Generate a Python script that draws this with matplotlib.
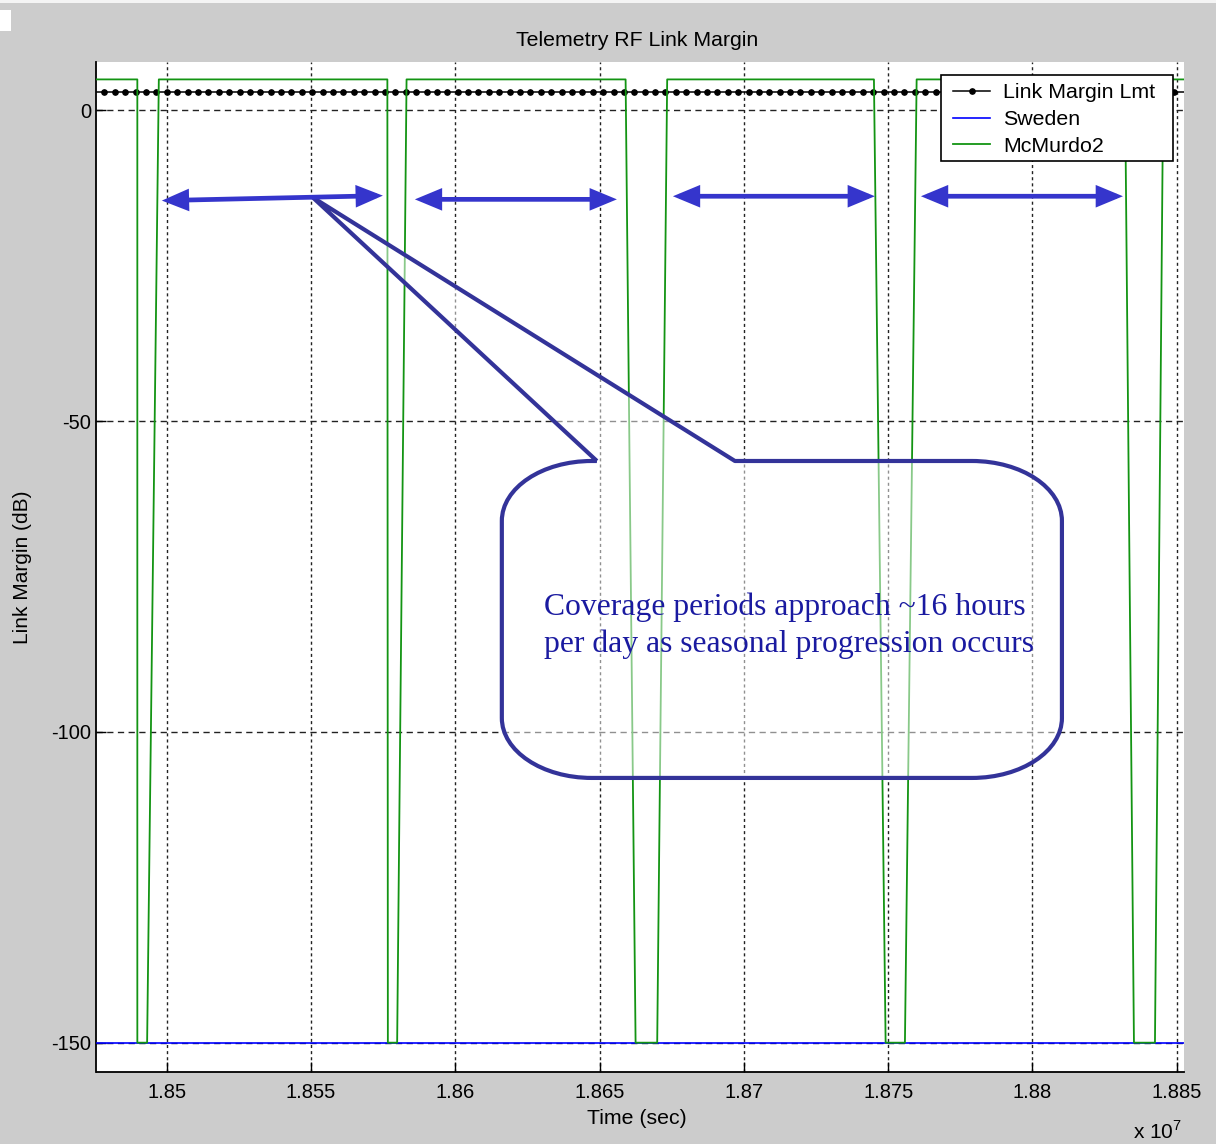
import numpy as np
import matplotlib
matplotlib.use("Agg")
import matplotlib.pyplot as plt
from matplotlib.patches import FancyArrowPatch, PathPatch, Rectangle, ArrowStyle
from matplotlib.path import Path

plt.rcParams['font.family'] = ['Liberation Sans', 'DejaVu Sans']
plt.rcParams['mathtext.fontset'] = 'custom'
plt.rcParams['mathtext.rm'] = 'Liberation Sans'
plt.rcParams['legend.numpoints'] = 1

# ---------------- data ----------------
t_start, t_end = 18475630, 18852330          # plotted time span (s)

# McMurdo2 passes: loss of signal (top -> floor) and reacquisition (floor -> top), seconds
los_top = [18489780, 18576430, 18658990, 18745050, 18832040]
los_floor = [18489780, 18576600, 18662450, 18749100, 18835160]
aos_floor = [18493170, 18579820, 18669940, 18755790, 18842440]
aos_top = [18497230, 18583080, 18673400, 18759850, 18845320]
mcmurdo_up_db = 5.0
no_link_db = -150.0

# Sweden never in view over this span
sweden_t = [t_start, t_end]
sweden_db = [-150.0, -150.0]

# link margin requirement, sampled hourly
limit_db = 3.0
limit_first = 18478400
limit_step = 3600
limit_count = 104

x_ticks = [1.85e7, 1.855e7, 1.86e7, 1.865e7, 1.87e7, 1.875e7, 1.88e7, 1.885e7]
x_tick_labels = ['1.85', '1.855', '1.86', '1.865', '1.87', '1.875', '1.88', '1.885']
y_ticks = [-150, -100, -50, 0]
y_tick_labels = ['-150', '-100', '-50', '0']

# coverage-period arrows (start/end time and level)
cover_t0 = [18498270, 18585960, 18675380, 18761340]
cover_t1 = [18574870, 18655970, 18745390, 18831350]
cover_db0 = [-14.5, -14.3, -13.8, -13.8]
cover_db1 = [-13.7, -14.3, -13.8, -13.8]

# callout box (time / dB)
callout_tip = (18550600, -14.0)
callout_base = (18649040, 18696870)
callout_left, callout_right = 18616100, 18810200
callout_top, callout_bottom = -56.4, -107.4
callout_rx, callout_ry = 31190, 9.65
callout_text = "Coverage periods approach ~16 hours\nper day as seasonal progression occurs"
callout_text_pos = (18630670, -82.95)

# ---------------- series assembly ----------------
mcm_t = [t_start]
mcm_db = [mcmurdo_up_db]
for a, b, c, d in zip(los_top, los_floor, aos_floor, aos_top):
    mcm_t += [a, b, c, d]
    mcm_db += [mcmurdo_up_db, no_link_db, no_link_db, mcmurdo_up_db]
mcm_t.append(t_end)
mcm_db.append(mcmurdo_up_db)

lim_t = np.concatenate([[t_start], limit_first + limit_step * np.arange(limit_count), [t_end]])
lim_db = np.full(len(lim_t), limit_db)

# ---------------- figure ----------------
W, H = 1216, 1144
fig = plt.figure(figsize=(W / 100, H / 100), dpi=100, facecolor='#cccccc')
fig.patches.append(Rectangle((0, 1 - 3 / H), 1, 3 / H, transform=fig.transFigure,
                             facecolor='#f4f4f4', edgecolor='none'))
fig.patches.append(Rectangle((0, 1 - 31 / H), 11 / W, 21 / H, transform=fig.transFigure,
                             facecolor='white', edgecolor='none'))

ax = fig.add_axes([96.5 / W, 1 - 1071.7 / H, (1183.5 - 96.5) / W, (1071.7 - 61.7) / H])
ax.set_facecolor('white')

ax.plot(lim_t, lim_db, color='black', lw=1.1, marker='o', ms=3.8,
        markevery=slice(1, -1), label='Link Margin Lmt', zorder=3)
ax.plot(sweden_t, sweden_db, color='#0000ff', lw=1.2, label='Sweden', zorder=3)
ax.plot(mcm_t, mcm_db, color='#139413', lw=1.3, label='McMurdo2', zorder=3)

ax.set_xlim(t_start, t_end)
ax.set_ylim(-154.67, 7.85)
ax.set_xticks(x_ticks)
ax.set_xticklabels(x_tick_labels)
ax.set_yticks(y_ticks)
ax.set_yticklabels(y_tick_labels)
ax.tick_params(direction='in', length=7, width=1, labelsize=14.5, pad=4,
               top=False, right=False, color='black')
ax.tick_params(axis='x', pad=8)
for s in ('top', 'right'):
    ax.spines[s].set_visible(False)
for s in ('left', 'bottom'):
    ax.spines[s].set_linewidth(1.3)
ax.set_axisbelow(True)
ax.xaxis.grid(True, color='#222222', lw=1.0, linestyle=(0, (2.2, 2.2)))
ax.yaxis.grid(True, color='#222222', lw=1.0, linestyle=(0, (4.5, 3.2)))

# coverage arrows
for t0, d0, t1, d1 in zip(cover_t0, cover_db0, cover_t1, cover_db1):
    ax.add_patch(FancyArrowPatch((t0, d0), (t1, d1),
                                 arrowstyle=ArrowStyle('<|-|>', head_length=13.5, head_width=5.6),
                                 mutation_scale=1, lw=3.4, color='#3535cc',
                                 joinstyle='miter', capstyle='butt',
                                 shrinkA=0, shrinkB=0, zorder=6))

# callout balloon with pointer
L, R, T, B = callout_left, callout_right, callout_top, callout_bottom
rx, ry = callout_rx, callout_ry
k = 0.5523
verts = [
    (callout_base[0], T), callout_tip, (callout_base[1], T), (R - rx, T),
    (R - rx + k * rx, T), (R, T - ry + k * ry), (R, T - ry),
    (R, B + ry),
    (R, B + ry - k * ry), (R - rx + k * rx, B), (R - rx, B),
    (L + rx, B),
    (L + rx - k * rx, B), (L, B + ry - k * ry), (L, B + ry),
    (L, T - ry),
    (L, T - ry + k * ry), (L + rx - k * rx, T), (L + rx, T),
    (callout_base[0], T),
]
codes = ([Path.MOVETO, Path.LINETO, Path.LINETO, Path.LINETO]
         + [Path.CURVE4] * 3 + [Path.LINETO]
         + [Path.CURVE4] * 3 + [Path.LINETO]
         + [Path.CURVE4] * 3 + [Path.LINETO]
         + [Path.CURVE4] * 3 + [Path.LINETO])
ax.add_patch(PathPatch(Path(verts, codes), facecolor=(1, 1, 1, 0.5), edgecolor='#333399',
                       lw=3.0, joinstyle='round', zorder=5))
ax.text(callout_text_pos[0], callout_text_pos[1], callout_text, family='Liberation Serif',
        fontsize=22.8, color='#1a1aa0', ha='left', va='center', linespacing=1.34, zorder=7)

# legend with its own frame box
ax.add_patch(Rectangle((941 / W, 1 - 161 / H), 232 / W, 86 / H, transform=fig.transFigure,
                       facecolor='white', edgecolor='black', lw=1.2, zorder=9, clip_on=False))
leg = ax.legend(loc='upper left', bbox_to_anchor=(953 / W, 1 - 83.5 / H),
                bbox_transform=fig.transFigure, frameon=False, borderaxespad=0, borderpad=0,
                handlelength=1.75, handletextpad=0.6, labelspacing=0.36, fontsize=15.4)
leg.set_zorder(10)

fig.text(637 / W, 1 - 40 / H, 'Telemetry RF Link Margin', ha='center', va='center', fontsize=15.3)
fig.text(637 / W, 1 - 1118 / H, 'Time (sec)', ha='center', va='center', fontsize=15.3)
fig.text(23 / W, 1 - 567 / H, 'Link Margin (dB)', ha='center', va='center', rotation=90, fontsize=15)
fig.text(1133 / W, 1 - 1139 / H, r'x 10$^{7}$', ha='left', va='baseline', fontsize=15)

fig.savefig('out.png', dpi=100, facecolor=fig.get_facecolor())
